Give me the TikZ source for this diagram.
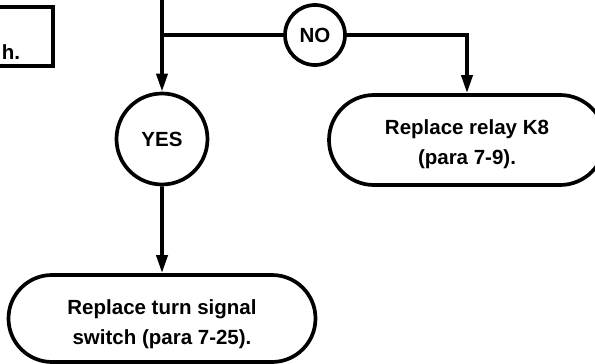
\documentclass[tikz,border=0pt]{standalone}
\usepackage{fontspec}
\setmainfont{Liberation Sans}
\usetikzlibrary{arrows.meta,shapes.misc,positioning}

\begin{document}
\begin{tikzpicture}[x=1pt, y=-1pt, line width=3.7pt,
    >={Triangle[length=18pt,width=11pt]},
    font=\fontsize{20.5}{30}\selectfont\bfseries,
    answer/.style={draw, circle, inner sep=0pt},
    action/.style={draw, rounded rectangle, align=center, inner sep=0pt}]
    \useasboundingbox (0,0) rectangle (595,364);
    % Paso anterior (cortado por el borde)
    \node[draw, anchor=north east, minimum width=150pt, minimum height=59pt] (prev) at (55,5) {};
    \node[anchor=base west, inner sep=0pt] (prevtxt) at (0,59) {h.};
    \coordinate (top) at (162,0);
    \coordinate (split) at (162,35);

    % Respuestas y acciones (el \rule baja un poco el texto)
    \node[answer, minimum size=91pt] (yes) at (162,139) {YES};
    \node[answer, minimum size=60pt] (no) at (315,35) {NO};
    \node[action, minimum width=307pt, minimum height=87pt] (turn) at (162,318.5) {\rule{0pt}{27pt}Replace turn signal\\switch (para 7-25).};
    \node[action, minimum width=276pt, minimum height=90pt] (relay) at (467,140) {\rule{0pt}{23pt}Replace relay K8\\(para 7-9).};

    % Flechas
    \draw[->] (top) -- (yes);
    \draw (split) -- (no);
    \draw[->] (no) -| (relay);
    \draw[->] (yes) -- (turn);
\end{tikzpicture}
\end{document}
